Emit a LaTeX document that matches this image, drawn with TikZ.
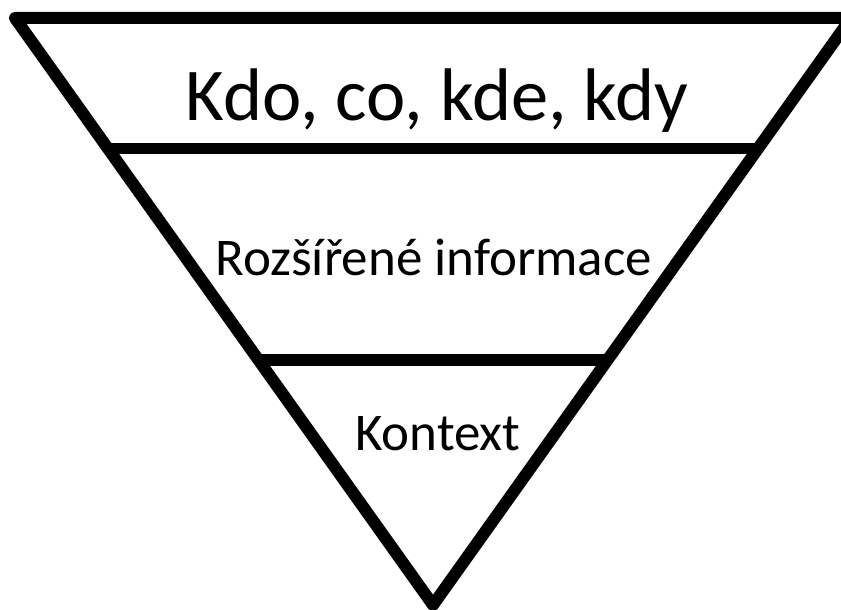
\documentclass[tikz,border=0pt]{standalone}
\usepackage{fontspec}
\setmainfont{Carlito}
\begin{document}
\begin{tikzpicture}[x=1pt,y=-1pt,
  edge/.style={line width=12pt,line join=round},
  band/.style={line width=11.5pt},
  bigtext/.style={anchor=base,inner sep=0pt,font=\fontsize{74.5}{80}\selectfont},
  midtext/.style={anchor=base,inner sep=0pt,font=\fontsize{53}{60}\selectfont}]
\useasboundingbox (0,0) rectangle (841,610);
\clip (0,0) rectangle (841,610);
\fill[white] (0,0) rectangle (841,610);
\coordinate (tl) at (15,18);
\coordinate (tr) at (851,18);
\coordinate (ap) at (433,605);
\coordinate (l1) at (107,148.5);
\coordinate (r1) at (759,148.5);
\coordinate (l2) at (258.5,360);
\coordinate (r2) at (607.5,360);
\draw[edge] (tl) -- (tr) -- (ap) -- cycle;
\draw[band] (l1) -- (r1);
\draw[band] (l2) -- (r2);
\node[bigtext] (t1) at (437,120) {Kdo, co, kde, kdy};
\node[midtext] (t2) at (434,275) {Rozšířené informace};
\node[midtext] (t3) at (438,450) {Kontext};
\end{tikzpicture}
\end{document}
